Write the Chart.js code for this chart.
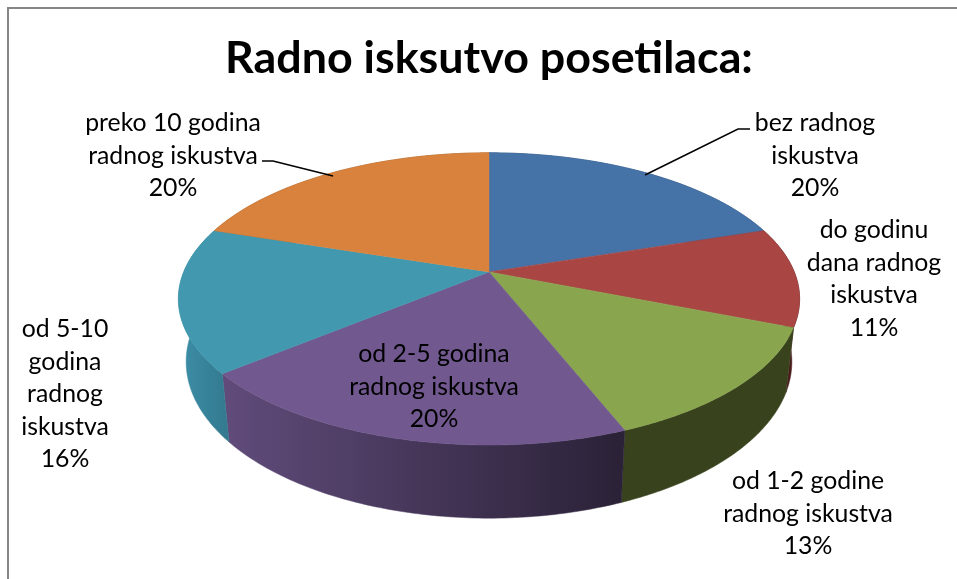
<!DOCTYPE html>
<html>
<head>
<meta charset="utf-8">
<title>Radno iskustvo posetilaca</title>
<script src="https://cdn.jsdelivr.net/npm/chart.js@4"></script>
<style>
  html, body { margin: 0; padding: 0; background: #fff; }
  canvas { display: block; }
</style>
</head>
<body>
<canvas id="pie-chart" width="957" height="579"></canvas>
<script>
// ── Data ──────────────────────────────────────────────────────
const titleText = 'Radno isksutvo posetilaca:';
const categories = [
  ['bez radnog', 'iskustva'],
  ['do godinu', 'dana radnog', 'iskustva'],
  ['od 1-2 godine', 'radnog iskustva'],
  ['od 2-5 godina', 'radnog iskustva'],
  ['od 5-10', 'godina', 'radnog', 'iskustva'],
  ['preko 10 godina', 'radnog iskustva'],
];
const values = [20, 11, 13, 20, 16, 20];
const topColors = ['#4572a7', '#a94543', '#89a54e', '#71588f', '#4198af', '#d9823d'];

// ── Layout (label anchors, leader lines, wall shades) ─────────
const labelCenters = [[815, 123], [874, 230], [808, 481], [434, 354], [65, 329], [173, 123]];
const lineHeight = 32.6;
const leaders = [
  [[750, 129], [738, 129], [645, 175]],
  [[262, 161], [273, 161], [333, 176]],
];
const wallShades = [
  ['#2c4468', '#2c4468'],
  ['#4a1c1c', '#4a1c1c'],
  ['#38431d', '#38431d'],
  ['#604b7a', '#2b2238'],
  ['#3c8fa8', '#347a90'],
  ['#8a5020', '#8a5020'],
];
const wallRange = [[489, 800], [780, 800], [617, 790], [225, 617], [179, 225], [179, 489]];

// Tilted disc: the pie circle seen in perspective
const stretchX = 305 / 141;
const tilt = -0.185;

function topPoint(arc, a) {
  const w = 1 + tilt * Math.sin(a);
  return [
    arc.x + stretchX * arc.outerRadius * Math.cos(a) / w,
    arc.y + arc.outerRadius * Math.sin(a) / w,
  ];
}

function bottomPoint(arc, a) {
  const p = topPoint(arc, a);
  return [arc.x + 0.975 * (p[0] - arc.x), arc.y + 61 + 1.07 * (p[1] - arc.y)];
}

function arcPoints(arc, pointFn) {
  const steps = 90;
  const pts = [];
  for (let i = 0; i <= steps; i++) {
    pts.push(pointFn(arc, arc.startAngle + (arc.endAngle - arc.startAngle) * i / steps));
  }
  return pts;
}

function tracePath(ctx, pts) {
  pts.forEach((p, i) => i ? ctx.lineTo(p[0], p[1]) : ctx.moveTo(p[0], p[1]));
}

// ── Plugins ───────────────────────────────────────────────────
const framePlugin = {
  id: 'frame',
  beforeDraw(chart) {
    const ctx = chart.ctx;
    ctx.save();
    ctx.fillStyle = '#fff';
    ctx.fillRect(0, 0, chart.width, chart.height);
    ctx.strokeStyle = '#868686';
    ctx.lineWidth = 2;
    ctx.beginPath();
    ctx.moveTo(8, chart.height);
    ctx.lineTo(8, 8);
    ctx.lineTo(chart.width, 8);
    ctx.stroke();
    ctx.restore();
  },
};

const discPlugin = {
  id: 'disc',
  // the library's flat arcs are replaced by the tilted ones below
  beforeDatasetDraw() {
    return false;
  },
  afterDatasetsDraw(chart) {
    const ctx = chart.ctx;
    const arcs = chart.getDatasetMeta(0).data;
    ctx.save();

    arcs.forEach((arc, i) => {
      const grad = ctx.createLinearGradient(wallRange[i][0], 0, wallRange[i][1], 0);
      grad.addColorStop(0, wallShades[i][0]);
      grad.addColorStop(1, wallShades[i][1]);
      ctx.fillStyle = grad;
      ctx.strokeStyle = grad;
      ctx.lineWidth = 0.5;
      ctx.beginPath();
      tracePath(ctx, arcPoints(arc, topPoint).concat(arcPoints(arc, bottomPoint).reverse()));
      ctx.closePath();
      ctx.fill();
      ctx.stroke();
    });

    arcs.forEach((arc, i) => {
      ctx.fillStyle = topColors[i];
      ctx.strokeStyle = topColors[i];
      ctx.lineWidth = 0.5;
      ctx.beginPath();
      tracePath(ctx, [[arc.x, arc.y]].concat(arcPoints(arc, topPoint)));
      ctx.closePath();
      ctx.fill();
      ctx.stroke();
    });

    ctx.restore();
  },
};

const labelPlugin = {
  id: 'pieLabels',
  afterDraw(chart) {
    const ctx = chart.ctx;
    ctx.save();
    ctx.strokeStyle = '#000';
    ctx.lineWidth = 1.5;
    leaders.forEach(line => {
      ctx.beginPath();
      tracePath(ctx, line);
      ctx.stroke();
    });

    ctx.fillStyle = '#000';
    ctx.font = '24.8px Lato';
    ctx.textAlign = 'center';
    ctx.textBaseline = 'middle';
    categories.forEach((lines, i) => {
      const rows = lines.concat(values[i] + '%');
      rows.forEach((row, k) => {
        ctx.fillText(row, labelCenters[i][0], labelCenters[i][1] + k * lineHeight);
      });
    });
    ctx.restore();
  },
};

// ── Chart ─────────────────────────────────────────────────────
new Chart(document.getElementById('pie-chart'), {
  type: 'pie',
  data: {
    labels: categories.map(lines => lines.join(' ')),
    datasets: [{ data: values, backgroundColor: topColors, borderWidth: 0 }],
  },
  options: {
    responsive: false,
    animation: false,
    layout: { padding: { left: 21, right: 0, top: 0, bottom: 166 } },
    plugins: {
      legend: { display: false },
      tooltip: { enabled: false },
      title: {
        display: true,
        text: titleText,
        color: '#000',
        font: { family: 'Lato', size: 44.8, weight: 'bold' },
        padding: { top: 32, bottom: 45 },
      },
    },
  },
  plugins: [framePlugin, discPlugin, labelPlugin],
});
</script>
</body>
</html>
